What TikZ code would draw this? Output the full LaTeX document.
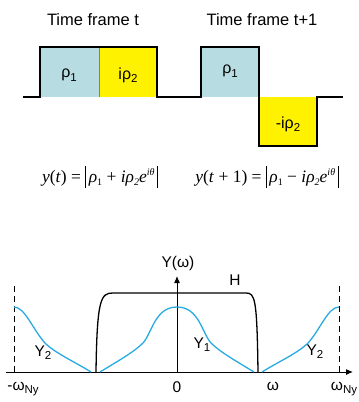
\documentclass[tikz,border=0pt]{standalone}
\usepackage{fontspec}
\setmainfont{Liberation Sans}
\newfontfamily\tms{Liberation Serif}
\usetikzlibrary{arrows.meta}
\definecolor{boxblue}{RGB}{183,221,226}
\definecolor{curveblue}{RGB}{41,171,226}
\newcommand{\vbar}{\rule[-0.32em]{0.55pt}{1.3em}}
\newcommand{\sbs}[1]{\raisebox{-0.4ex}{\fontsize{11.5}{12}\selectfont #1}}
\newcommand{\fsub}[1]{\raisebox{-0.3ex}{\fontsize{10}{10}\selectfont #1}}
\newcommand{\fsup}[1]{\raisebox{0.9ex}{\fontsize{10}{10}\selectfont #1}}
\tikzset{
  title/.style={font=\fontsize{16.5}{18}\selectfont, inner sep=0pt},
  boxlabel/.style={font=\fontsize{16}{18}\selectfont, inner sep=0pt},
  formula/.style={font=\tms\fontsize{17.5}{19}\selectfont, inner sep=0pt},
  axlabel/.style={font=\fontsize{15.5}{17}\selectfont, inner sep=0pt},
  signal/.style={line width=1.3pt, black},
  axis/.style={line width=1pt, -{Latex[length=7pt,width=6pt]}},
  nyq/.style={line width=0.9pt, dash pattern=on 6pt off 4pt},
  spec/.style={line width=1.3pt, curveblue},
  filt/.style={line width=1.3pt, black},
}
\begin{document}
\begin{tikzpicture}[x=1pt,y=-1pt]
\useasboundingbox (0,0) rectangle (359,402);
% top: time frames
\node[title] (tf1) at (93,20) {Time frame t};
\node[title] (tf2) at (262,20) {Time frame t+1};
\fill[boxblue] (40,47) rectangle (99,97);
\fill[yellow] (99,47) rectangle (157,97);
\fill[boxblue] (201,47) rectangle (259,97);
\fill[yellow] (259,97) rectangle (317,146);
\draw[gray, line width=0.6pt] (99,47) -- (99,97);
\draw[signal] (23,97) -- (40,97) -- (40,47) -- (157,47) -- (157,97) -- (201,97)
  -- (201,47) -- (259,47) -- (259,146) -- (317,146) -- (317,97) -- (343,97);
\node[boxlabel] (r1a) at (69,75) {ρ\sbs{1}};
\node[boxlabel] (r2a) at (128,75) {iρ\sbs{2}};
\node[boxlabel] (r1b) at (230,71) {ρ\sbs{1}};
\node[boxlabel] (r2b) at (288,124) {-iρ\sbs{2}};
\node[formula] (f1) at (100,177) {\textit{y}(\textit{t}) = \vbar\,\textit{ρ}\fsub{1} + \textit{iρ}\fsub{\itshape 2}\textit{e}\fsup{\itshape iθ}\,\vbar};
\node[formula] (f2) at (267,177) {\textit{y}(\textit{t} + 1) = \vbar\,\textit{ρ}\fsub{1} − \textit{iρ}\fsub{\itshape 2}\textit{e}\fsup{\itshape iθ}\,\vbar};
% bottom: spectrum
\coordinate (xl) at (6,372);
\coordinate (xr) at (353,372);
\coordinate (o) at (177,372);
\coordinate (yt) at (177,276);
\draw[axis] (xl) -- (xr);
\draw[axis] (o) -- (yt);
\draw[nyq] (14,372) -- (14,285);
\draw[nyq] (339,372) -- (339,285);
\draw[filt] (96,372) .. controls (97,298) and (101,293) .. (113,293) -- (246,293)
  .. controls (255,293) and (257,298) .. (258,372);
% Y2 left
\draw[spec] (14,307) .. controls (25,307) and (33,330) .. (45,343)
  .. controls (55,353) and (75,362) .. (91,372);
% Y1
\draw[spec] (100,372) .. controls (118,361) and (134,352) .. (143,343)
  .. controls (152,333) and (155,307) .. (177,307)
  .. controls (199,307) and (202,333) .. (211,343)
  .. controls (220,352) and (236,361) .. (254,372);
% Y2 right
\draw[spec] (262,372) .. controls (278,362) and (298,353) .. (308,343)
  .. controls (320,330) and (328,307) .. (339,307);
\node[axlabel] (ylab) at (178,263) {Y(ω)};
\node[axlabel] (hlab) at (235,280) {H};
\node[axlabel] (y1) at (202,345) {Y\sbs{1}};
\node[axlabel] (y2l) at (43,353) {Y\sbs{2}};
\node[axlabel] (y2r) at (315,352) {Y\sbs{2}};
\node[axlabel] (mny) at (23,389) {-ω\sbs{Ny}};
\node[axlabel] (zero) at (177,387) {0};
\node[axlabel] (om) at (273,386) {ω};
\node[axlabel] (ny) at (344,389) {ω\sbs{Ny}};
\end{tikzpicture}
\end{document}
